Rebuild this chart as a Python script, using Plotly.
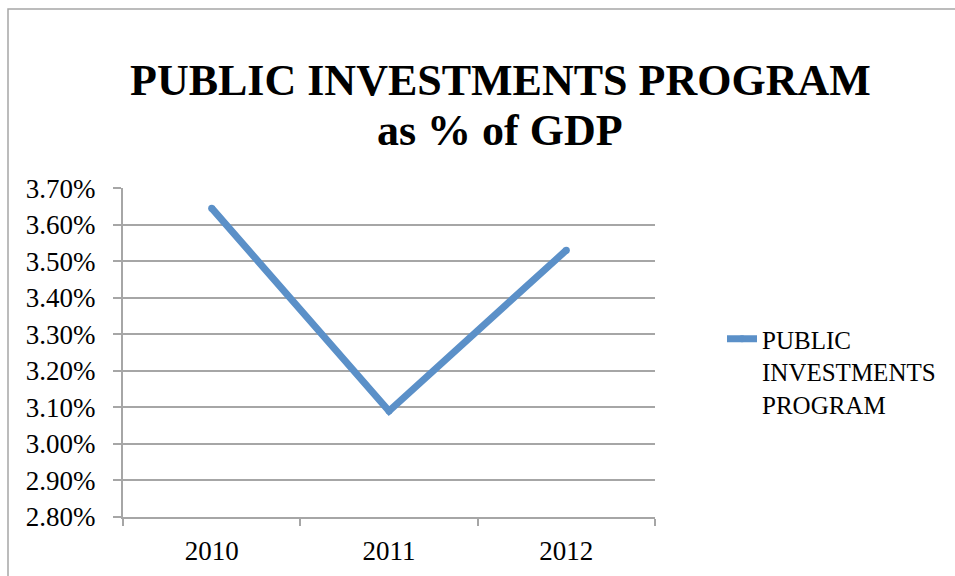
import plotly.graph_objects as go

# Public investments programme, share of GDP by year
years = ["2010", "2011", "2012"]
pip_share = [0.03645, 0.03090, 0.03530]
series_name = "PUBLIC<br>INVESTMENTS<br>PROGRAM"
title_lines = ["PUBLIC INVESTMENTS PROGRAM", "as % of GDP"]

GRID = "#A6A6A6"
LINE = "#5B90C8"
SERIF = "Liberation Serif"

W, H = 955, 576
L, R, T, B = 123, 300, 188, 59
pw, ph = W - L - R, H - T - B


def px_x(x):
    return (x - L) / pw


def px_y(y):
    return (H - B - y) / ph


fig = go.Figure()
fig.add_trace(go.Scatter(
    x=years, y=pip_share, name=series_name,
    mode="lines+markers",
    line=dict(color=LINE, width=7),
    marker=dict(color=LINE, size=7, line=dict(width=0)),
))

# outer chart frame
fig.add_shape(type="rect", xref="paper", yref="paper",
              x0=px_x(8), x1=px_x(960), y0=px_y(590), y1=px_y(9),
              line=dict(color=GRID, width=1.5), layer="below")

# two-line bold title, centred over the chart frame
for text, ypx in zip(title_lines, [80, 131]):
    fig.add_annotation(
        text=f"<b>{text}</b>", xref="paper", yref="paper",
        x=px_x(500), y=px_y(ypx), xanchor="center", yanchor="middle",
        showarrow=False,
        font=dict(family=SERIF, size=44, color="black"),
    )

fig.update_layout(
    width=W, height=H,
    margin=dict(l=L, r=R, t=T, b=B, autoexpand=False),
    paper_bgcolor="white", plot_bgcolor="white",
    font=dict(family=SERIF, color="black"),
    showlegend=True,
    legend=dict(
        x=px_x(722), y=px_y(316), xanchor="left", yanchor="top",
        valign="top",
        font=dict(family=SERIF, size=25, color="black"),
        bgcolor="rgba(0,0,0,0)", itemwidth=30,
    ),
    xaxis=dict(
        type="category", tickson="boundaries", range=[-0.5, 2.5],
        showgrid=False, showline=True, linecolor=GRID, linewidth=2,
        ticks="outside", ticklen=7, tickcolor=GRID, tickwidth=2,
        tickfont=dict(family=SERIF, size=27, color="black"),
        ticklabelstandoff=9,
    ),
    yaxis=dict(
        range=[0.028, 0.037002], dtick=0.001, tick0=0.028, tickformat=".2%",
        showgrid=True, gridcolor=GRID, gridwidth=2,
        showline=True, linecolor=GRID, linewidth=2,
        ticks="outside", ticklen=8, tickcolor=GRID, tickwidth=2,
        tickfont=dict(family=SERIF, size=27, color="black"),
        ticklabelstandoff=12,
        zeroline=False,
    ),
)

fig.write_html("out.html")
